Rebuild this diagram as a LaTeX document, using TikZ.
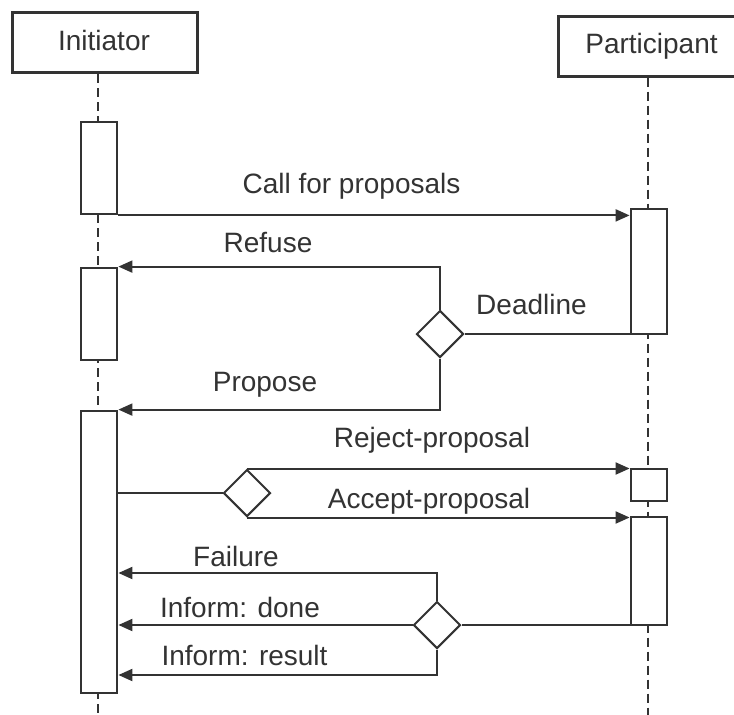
\documentclass[tikz,border=0pt]{standalone}
\usepackage{fontspec}
\setmainfont{Liberation Sans}
\usetikzlibrary{arrows.meta,shapes.geometric}
\definecolor{ink}{HTML}{333333}
\begin{document}
\begin{tikzpicture}[x=1pt,y=-1pt,
  lbl/.style={font=\fontsize{28}{32}\selectfont, text=ink, anchor=base, inner sep=0pt},
  actor/.style={draw=ink, line width=3pt, fill=white, minimum width=185pt,
                minimum height=60pt, inner sep=0pt},
  bar/.style={draw=ink, line width=2.8pt, fill=white, minimum width=36pt, inner sep=0pt},
  choice/.style={draw=ink, diamond, aspect=1, line width=2pt, fill=white,
                 minimum width=47pt, minimum height=47pt, inner sep=0pt},
  lifeline/.style={draw=ink, line width=2pt, dash pattern=on 9pt off 5pt},
  msg/.style={draw=ink, line width=2pt, -{Triangle[length=14pt,width=12pt]}},
  link/.style={draw=ink, line width=2.4pt},
]
\useasboundingbox (0,0) rectangle (734,715);

% actors
\node[actor] (init) at (104.5,42.5) {};
\node[actor] (part) at (651,46) {};
\node[lbl] (initName) at (104,50) {Initiator};
\node[lbl] (partName) at (651.5,53) {Participant};

% lifelines
\coordinate (iEnd) at (98,715);
\coordinate (pEnd) at (648,715);
\draw[lifeline] (iEnd |- init.south) -- (iEnd);
\draw[lifeline] (pEnd |- part.south) -- (pEnd);

% activation bars
\node[bar, minimum height=92pt]  (ib1) at (99,168) {};
\node[bar, minimum height=92pt]  (ib2) at (99,314) {};
\node[bar, minimum height=282pt] (ib3) at (99,552) {};
\node[bar, minimum height=125pt] (pb1) at (649,271.5) {};
\node[bar, minimum height=32pt]  (pb2) at (649,485) {};
\node[bar, minimum height=108pt] (pb3) at (649,571) {};

% decision points
\node[choice] (d1) at (440,334) {};
\node[choice] (d2) at (247,493) {};
\node[choice] (d3) at (437,625) {};

% call for proposals
\draw[msg] (ib1.south east) -- (ib1.south east -| pb1.west);
\node[lbl] (lCall) at (351.5,193) {Call for proposals};

% refuse / propose after the deadline
\draw[link] (d1.east -| pb1.west) -- (d1.east);
\node[lbl] (lDeadline) at (531.5,314) {Deadline};
\draw[msg] (d1.north) |- (ib2.north east);
\node[lbl] (lRefuse) at (268,252) {Refuse};
\draw[msg] (d1.south) |- (ib3.north east);
\node[lbl] (lPropose) at (265,391) {Propose};

% reject / accept
\draw[link] (d2.west -| ib3.east) -- (d2.west);
\draw[msg] (d2.north) -- (d2.north -| pb2.west);
\node[lbl] (lReject) at (432,447) {Reject-proposal};
\draw[msg] (d2.south) -- (d2.south -| pb3.west);
\node[lbl] (lAccept) at (429,508) {Accept-proposal};

% results
\draw[link] (d3.east -| pb3.west) -- (d3.east);
\coordinate (fCorner) at (437,573);
\coordinate (rCorner) at (437,675);
\draw[msg] (d3.north) -- (fCorner) -- (fCorner -| ib3.east);
\node[lbl] (lFailure) at (236,566) {Failure};
\draw[msg] (d3.west) -- (d3.west -| ib3.east);
\node[lbl] (lDone) at (240,617) {Inform: done};
\draw[msg] (d3.south) -- (rCorner) -- (rCorner -| ib3.east);
\node[lbl] (lResult) at (244.5,665) {Inform: result};
\end{tikzpicture}
\end{document}
